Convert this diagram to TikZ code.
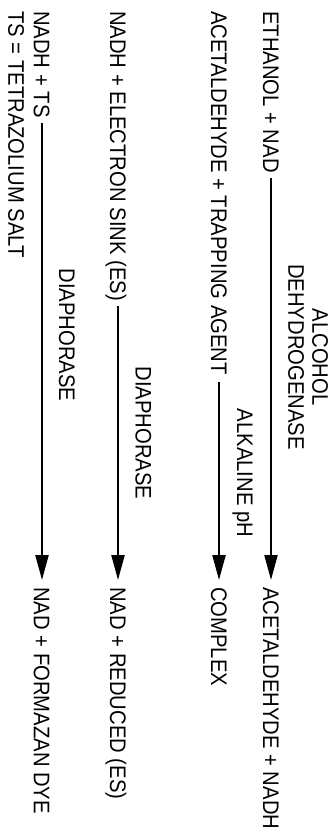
\documentclass[tikz,border=0pt]{standalone}
\usepackage{fontspec}
\setmainfont[FakeStretch=0.9]{Liberation Sans}
\usetikzlibrary{arrows.meta}
\begin{document}
\begin{tikzpicture}[x=1pt,y=-1pt,
  lbl/.style={rotate=-90, inner sep=0pt, font=\fontsize{22.5}{24}\selectfont, text height=16pt, text depth=0pt},
  rct/.style={lbl, anchor=west},
  enz/.style={rotate=-90, inner sep=0pt, font=\fontsize{22.5}{24}\selectfont, align=center},
  arr/.style={line width=2.2pt, -{Triangle[length=25pt,width=13pt]}}]
\fill[white] (0,0) rectangle (334,836);
\useasboundingbox (0,0) rectangle (334,836);
% reactants
\node[rct] (r1) at (271,11) {ETHANOL + NAD};
\node[rct] (r2) at (219,11) {ACETALDEHYDE + TRAPPING AGENT};
\node[rct] (r3) at (118,11) {NADH + ELECTRON SINK (ES)};
\node[rct] (r4) at (42,11) {NADH + TS};
\node[rct] (note) at (16.5,11) {TS = TETRAZOLIUM SALT};
% products
\node[rct] (p1) at (271,587) {ACETALDEHYDE + NADH};
\node[rct] (p2) at (219,587) {COMPLEX};
\node[rct] (p3) at (118,587) {NAD + REDUCED (ES)};
\node[rct] (p4) at (42,587) {NAD + FORMAZAN DYE};
% conditions
\node[enz] (e1) at (308,357) {ALCOHOL\\DEHYDROGENASE};
\node[lbl] (e2) at (245,473) {ALKALINE pH};
\node[lbl] (e3) at (143.5,433) {DIAPHORASE};
\node[lbl] (e4) at (67,335) {DIAPHORASE};
% arrows
\draw[arr] ([yshift=-5pt]r1.east) -- ([yshift=7pt]p1.west);
\draw[arr] ([yshift=-7pt]r2.east) -- ([yshift=7pt]p2.west);
\draw[arr] ([yshift=-5pt]r3.east) -- ([yshift=7pt]p3.west);
\draw[arr] ([yshift=-5pt]r4.east) -- ([yshift=7pt]p4.west);
\end{tikzpicture}
\end{document}
